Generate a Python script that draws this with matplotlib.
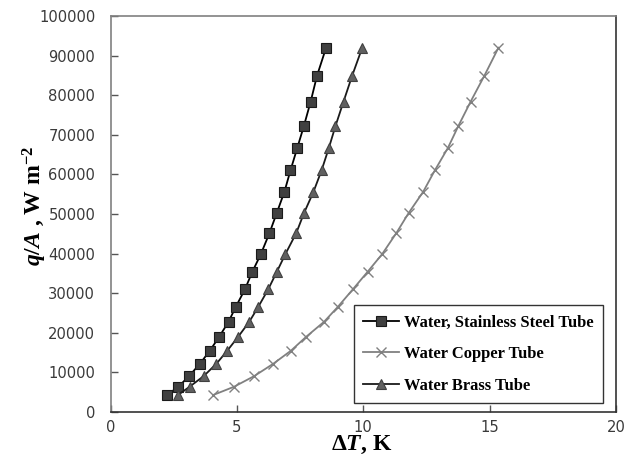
import matplotlib
matplotlib.use("Agg")
import matplotlib.pyplot as plt

# Heat flux values (shared by all series), W m^-2
q_flux = [4300, 6400, 9100, 12200, 15500, 19000, 22800, 26600, 31000, 35400,
          39900, 45200, 50300, 55600, 61000, 66700, 72200, 78400, 84900, 92000]

dT_stainless = [2.23, 2.69, 3.11, 3.54, 3.93, 4.30, 4.67, 4.96, 5.32, 5.61,
                5.95, 6.29, 6.58, 6.88, 7.12, 7.39, 7.65, 7.92, 8.17, 8.53]
dT_copper = [4.06, 4.89, 5.69, 6.44, 7.14, 7.74, 8.45, 9.00, 9.59, 10.17,
             10.75, 11.31, 11.80, 12.37, 12.83, 13.35, 13.76, 14.25, 14.79, 15.35]
dT_brass = [2.67, 3.13, 3.69, 4.19, 4.62, 5.05, 5.49, 5.85, 6.24, 6.58,
            6.92, 7.35, 7.66, 8.03, 8.35, 8.64, 8.90, 9.22, 9.56, 9.96]

labels = ["Water, Stainless Steel Tube", "Water Copper Tube", "Water Brass Tube"]
x_ticks = [0, 5, 10, 15, 20]
y_ticks = list(range(0, 100001, 10000))

plt.rcParams['mathtext.fontset'] = 'custom'
plt.rcParams['mathtext.rm'] = 'Liberation Serif:bold'
plt.rcParams['mathtext.it'] = 'Liberation Serif:italic:bold'
plt.rcParams['mathtext.bf'] = 'Liberation Serif:bold'

fig = plt.figure(figsize=(6.38, 4.63), dpi=100)
ax = fig.add_axes([0.1732, 0.110, 0.7923, 0.8554])

ax.plot(dT_stainless, q_flux, color='black', lw=1.3, marker='s', ms=7,
        mfc='#404040', mec='#1a1a1a', mew=0.8, label=labels[0])
ax.plot(dT_copper, q_flux, color='#808080', lw=1.3, marker='x', ms=7,
        mec='#808080', mew=1.0, label=labels[1])
ax.plot(dT_brass, q_flux, color='#1a1a1a', lw=1.3, marker='^', ms=7.5,
        mfc='#606060', mec='#404040', mew=0.8, label=labels[2])

ax.set_xlim(0, 20)
ax.set_ylim(0, 100000)
ax.set_xticks(x_ticks)
ax.set_yticks(y_ticks)
ax.tick_params(axis='both', direction='in', length=5, width=1, colors='#555555',
               labelcolor='#3a3a3a', labelsize=10.6)
ax.tick_params(axis='y', pad=11)
ax.tick_params(axis='x', pad=6)
for lab in ax.get_xticklabels() + ax.get_yticklabels():
    lab.set_fontfamily('DejaVu Sans')

for side in ['left', 'top']:
    ax.spines[side].set_color('#808080')
    ax.spines[side].set_linewidth(1.2)
for side in ['right', 'bottom']:
    ax.spines[side].set_color('#333333')
    ax.spines[side].set_linewidth(1.2)

ax.set_xlabel('Δ$T$, K', fontsize=17, fontweight='bold', family='Liberation Serif')
ax.xaxis.set_label_coords(0.497, -0.083)
ax.xaxis.label.set_va('center')
ax.set_ylabel('$q/A$ , W m$^{-2}$', fontsize=17, fontweight='bold',
              family='Liberation Serif')
ax.yaxis.set_label_coords(-0.150, 0.52)
ax.yaxis.label.set_va('center')

leg = ax.legend(loc='lower right', bbox_to_anchor=(0.974, 0.023),
                prop={'family': 'Liberation Serif', 'weight': 'bold', 'size': 11.9},
                frameon=True, fancybox=False, edgecolor='#333333', framealpha=1,
                handlelength=2.2, labelspacing=0.95, borderpad=0.55, handletextpad=0.3,
                borderaxespad=0)
leg.get_frame().set_linewidth(1.0)

fig.savefig('out.png', dpi=100)
